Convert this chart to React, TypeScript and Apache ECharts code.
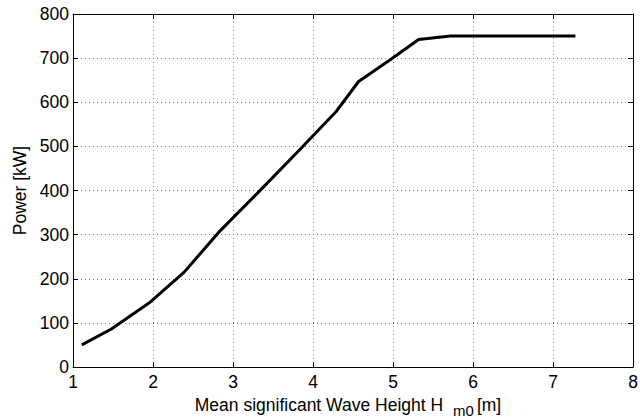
import React, { useEffect, useRef } from "react";
import * as echarts from "echarts";

const waveHeight = [1.11, 1.48, 1.95, 2.39, 2.82, 3.3, 3.8, 4.29, 4.57, 4.97, 5.32, 5.72, 7.28];
const power = [50, 86, 145, 215, 305, 393, 486, 579, 647, 697, 742, 750, 750];
const xTicks = [1, 2, 3, 4, 5, 6, 7, 8];
const yTicks = [0, 100, 200, 300, 400, 500, 600, 700, 800];

const FONT = "'Liberation Sans', Arial, Helvetica, sans-serif";
const FS = 17.5;

export default function App() {
  const ref = useRef<HTMLDivElement>(null);
  useEffect(() => {
    if (!ref.current) return;
    const chart = echarts.init(ref.current, undefined, { renderer: "svg" });
    const axisLine = { show: true, onZero: false, lineStyle: { color: "#000", width: 1 } };
    const tick = { show: true, inside: true, length: 5, lineStyle: { color: "#000" } };
    const gridLine = { show: true, lineStyle: { color: "#7a7a7a", type: [1, 3] as any, width: 1 } };
    chart.setOption({
      animation: false,
      backgroundColor: "#fff",
      grid: { left: 73, right: 7, top: 14, bottom: 51, containLabel: false, outerBoundsMode: "none" },
      xAxis: [
        {
          type: "value",
          min: xTicks[0],
          max: xTicks[xTicks.length - 1],
          interval: 1,
          axisLine,
          axisTick: tick,
          axisLabel: { color: "#000", fontSize: FS, fontFamily: FONT, margin: 6 },
          splitLine: gridLine,
          name: "{main|Mean significant Wave Height H}{sub|m0}{main|[m]}",
          nameLocation: "middle",
          nameGap: 27,
          nameTextStyle: {
            color: "#000",
            fontSize: FS,
            fontFamily: FONT,
            padding: [0, 10, 0, 0],
            rich: {
              main: { fontSize: FS, fontFamily: FONT, color: "#000", lineHeight: 20, verticalAlign: "top" },
              sub: {
                fontSize: 15,
                fontFamily: FONT,
                color: "#000",
                lineHeight: 15,
                verticalAlign: "top",
                padding: [7, 3, 0, 10],
              },
            },
          },
        },
        {
          type: "value",
          position: "top",
          min: xTicks[0],
          max: xTicks[xTicks.length - 1],
          interval: 1,
          axisLine,
          axisTick: tick,
          axisLabel: { show: false },
          splitLine: { show: false },
        },
      ],
      yAxis: [
        {
          type: "value",
          min: yTicks[0],
          max: yTicks[yTicks.length - 1],
          interval: 100,
          axisLine,
          axisTick: tick,
          axisLabel: { color: "#000", fontSize: FS, fontFamily: FONT, margin: 4 },
          splitLine: gridLine,
          name: "Power [kW]",
          nameLocation: "middle",
          nameGap: 43,
          nameTextStyle: { color: "#000", fontSize: FS, fontFamily: FONT },
        },
        {
          type: "value",
          position: "right",
          min: yTicks[0],
          max: yTicks[yTicks.length - 1],
          interval: 100,
          axisLine,
          axisTick: tick,
          axisLabel: { show: false },
          splitLine: { show: false },
        },
      ],
      series: [
        {
          type: "line",
          data: waveHeight.map((x, i) => [x, power[i]]),
          showSymbol: false,
          symbol: "none",
          lineStyle: { color: "#000", width: 3 },
          xAxisIndex: 0,
          yAxisIndex: 0,
        },
      ],
    });
    return () => chart.dispose();
  }, []);
  return <div ref={ref} style={{ width: 640, height: 418, position: "absolute", left: 0, top: 0 }} />;
}
